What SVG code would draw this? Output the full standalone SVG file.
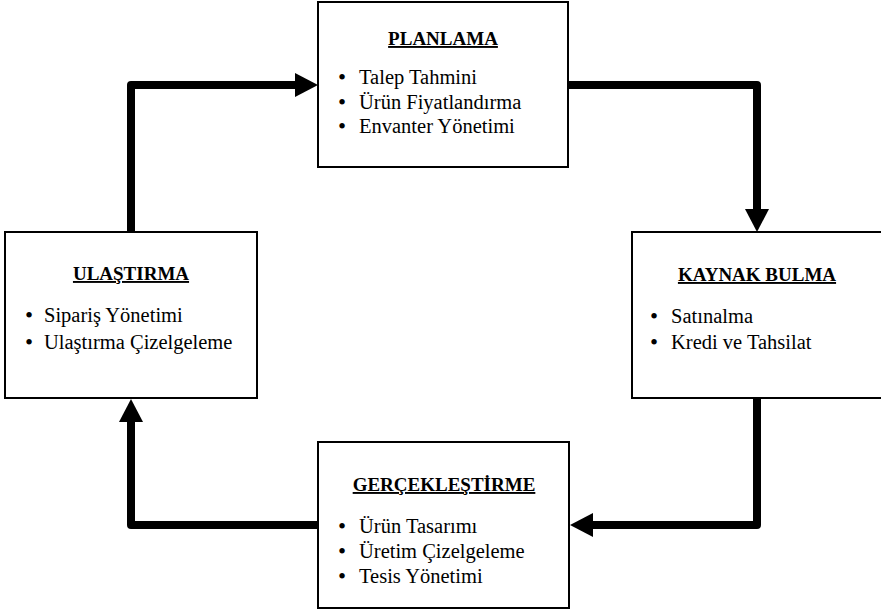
<svg xmlns="http://www.w3.org/2000/svg" width="881" height="612" viewBox="0 0 881 612">
  <style>
    .box { fill: #ffffff; stroke: #000000; stroke-width: 2; }
    .title { font-family: "Liberation Serif", "Times New Roman", serif; font-size: 19px; font-weight: bold; text-anchor: middle; text-decoration: underline; fill: #000; }
    .item { font-family: "Liberation Serif", "Times New Roman", serif; font-size: 20.5px; fill: #000; }
    .dot { font-family: "Liberation Serif", "Times New Roman", serif; font-size: 23px; fill: #000; }
    .flow { fill: none; stroke: #000000; stroke-width: 8; stroke-linejoin: round; marker-end: url(#head); }
  </style>
  <defs>
    <marker id="head" markerUnits="userSpaceOnUse" markerWidth="24" markerHeight="26" refX="0" refY="12.5" orient="auto" overflow="visible">
      <path d="M0,0.5 L23,12.5 L0,24.5 Z" fill="#000"/>
    </marker>
  </defs>

  <rect width="881" height="612" fill="#ffffff"/>

  <!-- connectors between the four stages -->
  <g id="connectors">
    <path class="flow" d="M131,232 V85 H295"/>
    <path class="flow" d="M568,85 H757 V209"/>
    <path class="flow" d="M757,398 V525 H593"/>
    <path class="flow" d="M318,525 H131 V422"/>
  </g>

  <g id="planlama">
    <rect class="box" x="318" y="2" width="250" height="165"/>
    <text class="title" x="443" y="45">PLANLAMA</text>
    <text class="dot" x="338" y="85">•</text>
    <text class="item" x="359" y="84">Talep Tahmini</text>
    <text class="dot" x="338" y="110">•</text>
    <text class="item" x="359" y="109">Ürün Fiyatlandırma</text>
    <text class="dot" x="338" y="134">•</text>
    <text class="item" x="359" y="133">Envanter Yönetimi</text>
  </g>

  <g id="kaynak-bulma">
    <rect class="box" x="632" y="232" width="260" height="166"/>
    <text class="title" x="757" y="281">KAYNAK BULMA</text>
    <text class="dot" x="650" y="324">•</text>
    <text class="item" x="671" y="323">Satınalma</text>
    <text class="dot" x="650" y="350">•</text>
    <text class="item" x="671" y="349">Kredi ve Tahsilat</text>
  </g>

  <g id="gerceklestirme">
    <rect class="box" x="318" y="442" width="251" height="166"/>
    <text class="title" x="444" y="491">GERÇEKLEŞTİRME</text>
    <text class="dot" x="338" y="534">•</text>
    <text class="item" x="359" y="533">Ürün Tasarımı</text>
    <text class="dot" x="338" y="559">•</text>
    <text class="item" x="359" y="558">Üretim Çizelgeleme</text>
    <text class="dot" x="338" y="584">•</text>
    <text class="item" x="359" y="583">Tesis Yönetimi</text>
  </g>

  <g id="ulastirma">
    <rect class="box" x="5" y="232" width="252" height="166"/>
    <text class="title" x="131" y="280">ULAŞTIRMA</text>
    <text class="dot" x="25" y="323">•</text>
    <text class="item" x="44" y="322">Sipariş Yönetimi</text>
    <text class="dot" x="25" y="350">•</text>
    <text class="item" x="44" y="349">Ulaştırma Çizelgeleme</text>
  </g>
</svg>
